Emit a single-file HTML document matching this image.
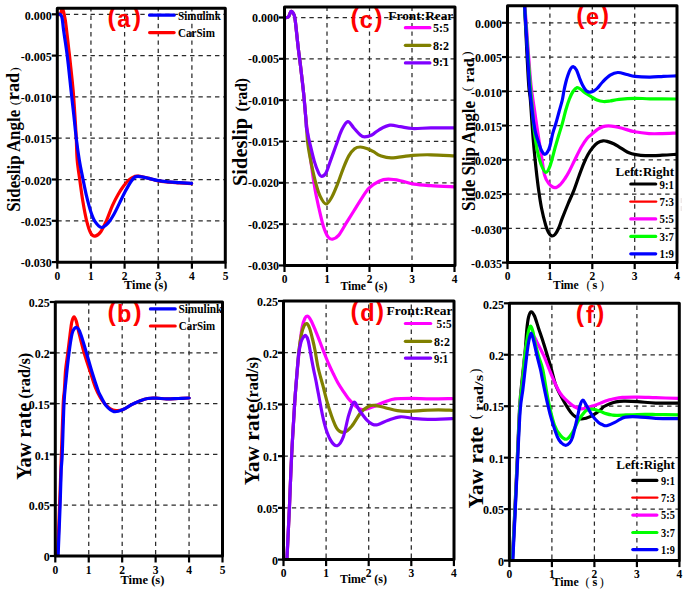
<!DOCTYPE html>
<html><head><meta charset="utf-8"><style>
html,body{margin:0;padding:0;background:#fff;}
svg{display:block;}
</style></head><body>
<svg width="685" height="592" viewBox="0 0 685 592">
<rect width="685" height="592" fill="#fff"/>
<clipPath id="clipa"><rect x="57.3" y="8.2" width="168" height="254"/></clipPath>
<line x1="90.95" y1="262.2" x2="90.95" y2="8.2" stroke="#2a2a2a" stroke-width="1.25" stroke-dasharray="4.4 3.9" stroke-dashoffset="-1.6"/>
<line x1="124.6" y1="262.2" x2="124.6" y2="8.2" stroke="#2a2a2a" stroke-width="1.25" stroke-dasharray="4.4 3.9" stroke-dashoffset="-1.6"/>
<line x1="158.25" y1="262.2" x2="158.25" y2="8.2" stroke="#2a2a2a" stroke-width="1.25" stroke-dasharray="4.4 3.9" stroke-dashoffset="-1.6"/>
<line x1="191.9" y1="262.2" x2="191.9" y2="8.2" stroke="#2a2a2a" stroke-width="1.25" stroke-dasharray="4.4 3.9" stroke-dashoffset="-1.6"/>
<line x1="57.3" y1="14.3" x2="225.3" y2="14.3" stroke="#2a2a2a" stroke-width="1.25" stroke-dasharray="4.4 3.9"/>
<line x1="57.3" y1="55.6" x2="225.3" y2="55.6" stroke="#2a2a2a" stroke-width="1.25" stroke-dasharray="4.4 3.9"/>
<line x1="57.3" y1="96.9" x2="225.3" y2="96.9" stroke="#2a2a2a" stroke-width="1.25" stroke-dasharray="4.4 3.9"/>
<line x1="57.3" y1="138.2" x2="225.3" y2="138.2" stroke="#2a2a2a" stroke-width="1.25" stroke-dasharray="4.4 3.9"/>
<line x1="57.3" y1="179.5" x2="225.3" y2="179.5" stroke="#2a2a2a" stroke-width="1.25" stroke-dasharray="4.4 3.9"/>
<line x1="57.3" y1="220.8" x2="225.3" y2="220.8" stroke="#2a2a2a" stroke-width="1.25" stroke-dasharray="4.4 3.9"/>
<text x="107.55" y="26.12" font-size="25" text-anchor="start" font-family='"Liberation Sans", sans-serif' font-weight="bold" fill="#f00">(</text>
<text x="132.73" y="26.12" font-size="25" text-anchor="start" font-family='"Liberation Sans", sans-serif' font-weight="bold" fill="#f00">)</text>
<text x="117.35" y="27.3" font-size="23.5" text-anchor="start" font-family='"Liberation Sans", sans-serif' font-weight="bold" fill="#f00">a</text>
<line x1="149.6" y1="15.2" x2="174.1" y2="15.2" stroke="#0000ff" stroke-width="3.2" stroke-linecap="round"/>
<line x1="149.6" y1="32.6" x2="174.1" y2="32.6" stroke="#ff0000" stroke-width="3.2" stroke-linecap="round"/>
<text x="178.1" y="19.5" font-size="11.5" text-anchor="start" font-family='"Liberation Serif", serif' font-weight="bold" fill="#000" textLength="42.7" lengthAdjust="spacingAndGlyphs">Simulink</text>
<text x="178.1" y="36.5" font-size="11.5" text-anchor="start" font-family='"Liberation Serif", serif' font-weight="bold" fill="#000" textLength="36.8" lengthAdjust="spacingAndGlyphs">CarSim</text>
<g clip-path="url(#clipa)" fill="none" stroke-linecap="round" stroke-linejoin="round">
<path d="M57.5,14.5 C57.88,14.52 59.2,15.05 59.8,14.6 C60.4,14.15 60.68,12.83 61.1,11.8 C61.52,10.77 61.9,8.45 62.3,8.4 C62.7,8.35 63.12,10.15 63.5,11.5 C63.88,12.85 64.25,14.72 64.6,16.5 C64.95,18.28 65.17,19.05 65.6,22.2 C66.03,25.35 66.68,31 67.2,35.4 C67.72,39.8 68.2,44.2 68.7,48.6 C69.2,53 69.47,54.9 70.2,61.8 C70.93,68.7 72.27,80.3 73.1,90 C73.93,99.7 74.67,111.9 75.2,120 C75.73,128.1 75.97,131.93 76.3,138.6 C76.63,145.27 76.58,152.85 77.2,160 C77.82,167.15 79.05,174.57 80,181.5 C80.95,188.43 81.82,195.13 82.9,201.6 C83.98,208.07 85.18,215.03 86.5,220.3 C87.82,225.57 89.37,230.57 90.8,233.2 C92.23,235.83 93.43,236.33 95.1,236.1 C96.77,235.87 98.88,234.43 100.8,231.8 C102.72,229.17 104.68,224.62 106.6,220.3 C108.52,215.98 110.38,210.2 112.3,205.9 C114.22,201.6 116.18,197.85 118.1,194.5 C120.02,191.15 121.9,188.32 123.8,185.8 C125.7,183.28 127.7,180.95 129.5,179.4 C131.3,177.85 133.12,177.03 134.6,176.5 C136.08,175.97 136,175.88 138.4,176.2 C140.8,176.52 145.88,177.67 149,178.4 C152.12,179.13 154.22,180.02 157.1,180.6 C159.98,181.18 162.58,181.53 166.3,181.9 C170.02,182.27 175.18,182.52 179.4,182.8 C183.62,183.08 189.57,183.47 191.6,183.6" stroke="#ff0000" stroke-width="3.2"/>
<path d="M57.5,14.2 C58.02,14.27 59.83,13.93 60.6,14.6 C61.37,15.27 61.6,15.58 62.1,18.2 C62.6,20.82 63.1,26.58 63.6,30.3 C64.1,34.02 64.58,36.95 65.1,40.5 C65.62,44.05 66.18,47.72 66.7,51.6 C67.22,55.48 67.48,57.4 68.2,63.8 C68.92,70.2 70.07,81.47 71,90 C71.93,98.53 72.92,106.9 73.8,115 C74.68,123.1 75.38,131.1 76.3,138.6 C77.22,146.1 78.2,153.32 79.3,160 C80.4,166.68 81.7,172.72 82.9,178.7 C84.1,184.68 85.18,190.4 86.5,195.9 C87.82,201.4 89.37,207.4 90.8,211.7 C92.23,216 93.3,219.07 95.1,221.7 C96.9,224.33 99.45,227.25 101.6,227.5 C103.75,227.75 105.97,225.37 108,223.2 C110.03,221.03 111.88,217.85 113.8,214.5 C115.72,211.15 117.6,206.92 119.5,203.1 C121.4,199.28 123.28,195.2 125.2,191.6 C127.12,188 129.43,183.87 131,181.5 C132.57,179.13 133.37,178.25 134.6,177.4 C135.83,176.55 136,176.23 138.4,176.4 C140.8,176.57 145.88,177.73 149,178.4 C152.12,179.07 154.22,179.85 157.1,180.4 C159.98,180.95 162.58,181.33 166.3,181.7 C170.02,182.07 175.18,182.32 179.4,182.6 C183.62,182.88 189.57,183.27 191.6,183.4" stroke="#0000ff" stroke-width="3.2"/>
</g>
<rect x="57.3" y="8.2" width="168" height="254" fill="none" stroke="#000" stroke-width="3" stroke-linejoin="round"/>
<line x1="57.3" y1="262.2" x2="57.3" y2="268.7" stroke="#000" stroke-width="2.2"/>
<text x="57.3" y="280" font-size="11.5" text-anchor="middle" font-family='"Liberation Serif", serif' font-weight="bold" fill="#000">0</text>
<line x1="90.95" y1="262.2" x2="90.95" y2="268.7" stroke="#000" stroke-width="2.2"/>
<text x="90.95" y="280" font-size="11.5" text-anchor="middle" font-family='"Liberation Serif", serif' font-weight="bold" fill="#000">1</text>
<line x1="124.6" y1="262.2" x2="124.6" y2="268.7" stroke="#000" stroke-width="2.2"/>
<text x="124.6" y="280" font-size="11.5" text-anchor="middle" font-family='"Liberation Serif", serif' font-weight="bold" fill="#000">2</text>
<line x1="158.25" y1="262.2" x2="158.25" y2="268.7" stroke="#000" stroke-width="2.2"/>
<text x="158.25" y="280" font-size="11.5" text-anchor="middle" font-family='"Liberation Serif", serif' font-weight="bold" fill="#000">3</text>
<line x1="191.9" y1="262.2" x2="191.9" y2="268.7" stroke="#000" stroke-width="2.2"/>
<text x="191.9" y="280" font-size="11.5" text-anchor="middle" font-family='"Liberation Serif", serif' font-weight="bold" fill="#000">4</text>
<line x1="225.55" y1="262.2" x2="225.55" y2="268.7" stroke="#000" stroke-width="2.2"/>
<text x="225.55" y="280" font-size="11.5" text-anchor="middle" font-family='"Liberation Serif", serif' font-weight="bold" fill="#000">5</text>
<line x1="51.8" y1="14.3" x2="57.3" y2="14.3" stroke="#000" stroke-width="2.2"/>
<text x="51.8" y="19.5" font-size="12" text-anchor="end" font-family='"Liberation Serif", serif' font-weight="bold" fill="#000">0.000</text>
<line x1="51.8" y1="55.6" x2="57.3" y2="55.6" stroke="#000" stroke-width="2.2"/>
<text x="51.8" y="60.8" font-size="12" text-anchor="end" font-family='"Liberation Serif", serif' font-weight="bold" fill="#000">-0.005</text>
<line x1="51.8" y1="96.9" x2="57.3" y2="96.9" stroke="#000" stroke-width="2.2"/>
<text x="51.8" y="102.1" font-size="12" text-anchor="end" font-family='"Liberation Serif", serif' font-weight="bold" fill="#000">-0.010</text>
<line x1="51.8" y1="138.2" x2="57.3" y2="138.2" stroke="#000" stroke-width="2.2"/>
<text x="51.8" y="143.4" font-size="12" text-anchor="end" font-family='"Liberation Serif", serif' font-weight="bold" fill="#000">-0.015</text>
<line x1="51.8" y1="179.5" x2="57.3" y2="179.5" stroke="#000" stroke-width="2.2"/>
<text x="51.8" y="184.7" font-size="12" text-anchor="end" font-family='"Liberation Serif", serif' font-weight="bold" fill="#000">-0.020</text>
<line x1="51.8" y1="220.8" x2="57.3" y2="220.8" stroke="#000" stroke-width="2.2"/>
<text x="51.8" y="226" font-size="12" text-anchor="end" font-family='"Liberation Serif", serif' font-weight="bold" fill="#000">-0.025</text>
<line x1="51.8" y1="262.1" x2="57.3" y2="262.1" stroke="#000" stroke-width="2.2"/>
<text x="51.8" y="267.3" font-size="12" text-anchor="end" font-family='"Liberation Serif", serif' font-weight="bold" fill="#000">-0.030</text>
<text x="124.1" y="288.7" font-size="12.5" text-anchor="start" font-family='"Liberation Serif", serif' font-weight="bold" fill="#000" textLength="43.3" lengthAdjust="spacingAndGlyphs">Time (s)</text>
<text transform="translate(19.6,211.8) rotate(-90)" x="0" y="0" font-size="18.8" text-anchor="start" font-family='"Liberation Serif", serif' font-weight="bold" fill="#000" textLength="102" lengthAdjust="spacingAndGlyphs">Sideslip Angle</text>
<text transform="translate(19,102.9) rotate(-90)" x="0" y="0" font-size="13.5" text-anchor="middle" font-family='"Liberation Serif", serif' font-weight="normal" fill="#000">(</text>
<text transform="translate(19.1,100.2) rotate(-90)" x="0" y="0" font-size="17.8" text-anchor="start" font-family='"Liberation Serif", serif' font-weight="bold" fill="#000" textLength="27.4" lengthAdjust="spacingAndGlyphs">rad</text>
<text transform="translate(19,69.6) rotate(-90)" x="0" y="0" font-size="13.5" text-anchor="middle" font-family='"Liberation Serif", serif' font-weight="normal" fill="#000">)</text>
<clipPath id="clipb"><rect x="55.3" y="302" width="167.2" height="254"/></clipPath>
<line x1="88.74" y1="556" x2="88.74" y2="302" stroke="#2a2a2a" stroke-width="1.25" stroke-dasharray="4.4 3.9" stroke-dashoffset="-1.6"/>
<line x1="122.18" y1="556" x2="122.18" y2="302" stroke="#2a2a2a" stroke-width="1.25" stroke-dasharray="4.4 3.9" stroke-dashoffset="-1.6"/>
<line x1="155.62" y1="556" x2="155.62" y2="302" stroke="#2a2a2a" stroke-width="1.25" stroke-dasharray="4.4 3.9" stroke-dashoffset="-1.6"/>
<line x1="189.06" y1="556" x2="189.06" y2="302" stroke="#2a2a2a" stroke-width="1.25" stroke-dasharray="4.4 3.9" stroke-dashoffset="-1.6"/>
<line x1="55.3" y1="505.2" x2="222.5" y2="505.2" stroke="#2a2a2a" stroke-width="1.25" stroke-dasharray="4.4 3.9"/>
<line x1="55.3" y1="454.4" x2="222.5" y2="454.4" stroke="#2a2a2a" stroke-width="1.25" stroke-dasharray="4.4 3.9"/>
<line x1="55.3" y1="403.6" x2="222.5" y2="403.6" stroke="#2a2a2a" stroke-width="1.25" stroke-dasharray="4.4 3.9"/>
<line x1="55.3" y1="352.8" x2="222.5" y2="352.8" stroke="#2a2a2a" stroke-width="1.25" stroke-dasharray="4.4 3.9"/>
<text x="107.55" y="321.12" font-size="25" text-anchor="start" font-family='"Liberation Sans", sans-serif' font-weight="bold" fill="#f00">(</text>
<text x="133.23" y="321.12" font-size="25" text-anchor="start" font-family='"Liberation Sans", sans-serif' font-weight="bold" fill="#f00">)</text>
<text x="117.08" y="322.3" font-size="23.5" text-anchor="start" font-family='"Liberation Sans", sans-serif' font-weight="bold" fill="#f00">b</text>
<line x1="150.4" y1="308.9" x2="175.2" y2="308.9" stroke="#0000ff" stroke-width="3.2" stroke-linecap="round"/>
<line x1="150.4" y1="326" x2="175.2" y2="326" stroke="#ff0000" stroke-width="3.2" stroke-linecap="round"/>
<text x="178.4" y="313.1" font-size="11.5" text-anchor="start" font-family='"Liberation Serif", serif' font-weight="bold" fill="#000" textLength="44" lengthAdjust="spacingAndGlyphs">Simulink</text>
<text x="178.8" y="330" font-size="11.5" text-anchor="start" font-family='"Liberation Serif", serif' font-weight="bold" fill="#000" textLength="36.4" lengthAdjust="spacingAndGlyphs">CarSim</text>
<g clip-path="url(#clipb)" fill="none" stroke-linecap="round" stroke-linejoin="round">
<path d="M57.6,556 C57.93,547.5 59,521 59.6,505 C60.2,489 60.6,476.83 61.2,460 C61.8,443.17 62.67,415.67 63.2,404 C63.73,392.33 64,395.67 64.4,390 C64.8,384.33 65.03,376.17 65.6,370 C66.17,363.83 67.07,358.83 67.8,353 C68.53,347.17 69.33,340.17 70,335 C70.67,329.83 71.13,325.03 71.8,322 C72.47,318.97 73.23,316.88 74,316.8 C74.77,316.72 75.57,318.8 76.4,321.5 C77.23,324.2 77.7,327.75 79,333 C80.3,338.25 82.37,346.67 84.2,353 C86.03,359.33 88.1,365.17 90,371 C91.9,376.83 93.93,383.67 95.6,388 C97.27,392.33 98.52,394.42 100,397 C101.48,399.58 102.83,401.58 104.5,403.5 C106.17,405.42 108.08,407.33 110,408.5 C111.92,409.67 113.83,410.32 116,410.5 C118.17,410.68 120.32,410.63 123,409.6 C125.68,408.57 129.47,405.67 132.1,404.3 C134.73,402.93 136.23,402.37 138.8,401.4 C141.37,400.43 144.58,399.03 147.5,398.5 C150.42,397.97 153.13,398.13 156.3,398.2 C159.47,398.27 162.85,398.85 166.5,398.9 C170.15,398.95 174.42,398.65 178.2,398.5 C181.98,398.35 187.37,398.08 189.2,398" stroke="#ff0000" stroke-width="3.2"/>
<path d="M58.1,556 C58.43,547.6 59.58,519.93 60.1,505.6 C60.62,491.27 60.85,478.43 61.2,470 C61.55,461.57 61.73,466 62.2,455 C62.67,444 63.37,416.5 64,404 C64.63,391.5 65.17,388.5 66,380 C66.83,371.5 68,360.67 69,353 C70,345.33 71.08,338.08 72,334 C72.92,329.92 73.73,329.6 74.5,328.5 C75.27,327.4 75.85,327.15 76.6,327.4 C77.35,327.65 78.1,328.23 79,330 C79.9,331.77 80.75,334.17 82,338 C83.25,341.83 84.83,347.33 86.5,353 C88.17,358.67 90.1,365.83 92,372 C93.9,378.17 96.53,386.13 97.9,390 C99.27,393.87 98.82,392.57 100.2,395.2 C101.58,397.83 103.92,403.07 106.2,405.8 C108.48,408.53 111.1,410.97 113.9,411.6 C116.7,412.23 119.97,410.82 123,409.6 C126.03,408.38 129.47,405.67 132.1,404.3 C134.73,402.93 136.23,402.37 138.8,401.4 C141.37,400.43 144.58,399.03 147.5,398.5 C150.42,397.97 153.13,398.13 156.3,398.2 C159.47,398.27 162.85,398.85 166.5,398.9 C170.15,398.95 174.42,398.65 178.2,398.5 C181.98,398.35 187.37,398.08 189.2,398" stroke="#0000ff" stroke-width="3.2"/>
</g>
<rect x="55.3" y="302" width="167.2" height="254" fill="none" stroke="#000" stroke-width="3" stroke-linejoin="round"/>
<line x1="55.3" y1="556" x2="55.3" y2="562.5" stroke="#000" stroke-width="2.2"/>
<text x="55.3" y="573.5" font-size="11.5" text-anchor="middle" font-family='"Liberation Serif", serif' font-weight="bold" fill="#000">0</text>
<line x1="88.74" y1="556" x2="88.74" y2="562.5" stroke="#000" stroke-width="2.2"/>
<text x="88.74" y="573.5" font-size="11.5" text-anchor="middle" font-family='"Liberation Serif", serif' font-weight="bold" fill="#000">1</text>
<line x1="122.18" y1="556" x2="122.18" y2="562.5" stroke="#000" stroke-width="2.2"/>
<text x="122.18" y="573.5" font-size="11.5" text-anchor="middle" font-family='"Liberation Serif", serif' font-weight="bold" fill="#000">2</text>
<line x1="155.62" y1="556" x2="155.62" y2="562.5" stroke="#000" stroke-width="2.2"/>
<text x="155.62" y="573.5" font-size="11.5" text-anchor="middle" font-family='"Liberation Serif", serif' font-weight="bold" fill="#000">3</text>
<line x1="189.06" y1="556" x2="189.06" y2="562.5" stroke="#000" stroke-width="2.2"/>
<text x="189.06" y="573.5" font-size="11.5" text-anchor="middle" font-family='"Liberation Serif", serif' font-weight="bold" fill="#000">4</text>
<line x1="222.5" y1="556" x2="222.5" y2="562.5" stroke="#000" stroke-width="2.2"/>
<text x="222.5" y="573.5" font-size="11.5" text-anchor="middle" font-family='"Liberation Serif", serif' font-weight="bold" fill="#000">5</text>
<line x1="49.8" y1="556" x2="55.3" y2="556" stroke="#000" stroke-width="2.2"/>
<text x="49.8" y="561.2" font-size="12" text-anchor="end" font-family='"Liberation Serif", serif' font-weight="bold" fill="#000">0</text>
<line x1="49.8" y1="505.2" x2="55.3" y2="505.2" stroke="#000" stroke-width="2.2"/>
<text x="49.8" y="510.4" font-size="12" text-anchor="end" font-family='"Liberation Serif", serif' font-weight="bold" fill="#000">0.05</text>
<line x1="49.8" y1="454.4" x2="55.3" y2="454.4" stroke="#000" stroke-width="2.2"/>
<text x="49.8" y="459.6" font-size="12" text-anchor="end" font-family='"Liberation Serif", serif' font-weight="bold" fill="#000">0.1</text>
<line x1="49.8" y1="403.6" x2="55.3" y2="403.6" stroke="#000" stroke-width="2.2"/>
<text x="49.8" y="408.8" font-size="12" text-anchor="end" font-family='"Liberation Serif", serif' font-weight="bold" fill="#000">0.15</text>
<line x1="49.8" y1="352.8" x2="55.3" y2="352.8" stroke="#000" stroke-width="2.2"/>
<text x="49.8" y="358" font-size="12" text-anchor="end" font-family='"Liberation Serif", serif' font-weight="bold" fill="#000">0.2</text>
<line x1="49.8" y1="302" x2="55.3" y2="302" stroke="#000" stroke-width="2.2"/>
<text x="49.8" y="307.2" font-size="12" text-anchor="end" font-family='"Liberation Serif", serif' font-weight="bold" fill="#000">0.25</text>
<text x="120.4" y="583.7" font-size="12.5" text-anchor="start" font-family='"Liberation Serif", serif' font-weight="bold" fill="#000" textLength="44" lengthAdjust="spacingAndGlyphs">Time (s)</text>
<text transform="translate(30.6,479.8) rotate(-90)" x="0" y="0" font-size="20" text-anchor="start" font-family='"Liberation Serif", serif' font-weight="bold" fill="#000" textLength="77" lengthAdjust="spacingAndGlyphs">Yaw rate</text>
<text transform="translate(30.3,398.8) rotate(-90)" x="0" y="0" font-size="16" text-anchor="start" font-family='"Liberation Serif", serif' font-weight="bold" fill="#000" textLength="46" lengthAdjust="spacingAndGlyphs">(rad/s)</text>
<clipPath id="clipc"><rect x="284.5" y="7" width="170.5" height="258.5"/></clipPath>
<line x1="327" y1="265.5" x2="327" y2="7" stroke="#2a2a2a" stroke-width="1.25" stroke-dasharray="4.4 3.9" stroke-dashoffset="-5.6"/>
<line x1="369.5" y1="265.5" x2="369.5" y2="7" stroke="#2a2a2a" stroke-width="1.25" stroke-dasharray="4.4 3.9" stroke-dashoffset="-5.6"/>
<line x1="412" y1="265.5" x2="412" y2="7" stroke="#2a2a2a" stroke-width="1.25" stroke-dasharray="4.4 3.9" stroke-dashoffset="-5.6"/>
<line x1="284.5" y1="17.5" x2="455" y2="17.5" stroke="#2a2a2a" stroke-width="1.25" stroke-dasharray="4.4 3.9"/>
<line x1="284.5" y1="58.83" x2="455" y2="58.83" stroke="#2a2a2a" stroke-width="1.25" stroke-dasharray="4.4 3.9"/>
<line x1="284.5" y1="100.16" x2="455" y2="100.16" stroke="#2a2a2a" stroke-width="1.25" stroke-dasharray="4.4 3.9"/>
<line x1="284.5" y1="141.49" x2="455" y2="141.49" stroke="#2a2a2a" stroke-width="1.25" stroke-dasharray="4.4 3.9"/>
<line x1="284.5" y1="182.82" x2="455" y2="182.82" stroke="#2a2a2a" stroke-width="1.25" stroke-dasharray="4.4 3.9"/>
<line x1="284.5" y1="224.15" x2="455" y2="224.15" stroke="#2a2a2a" stroke-width="1.25" stroke-dasharray="4.4 3.9"/>
<text x="350.45" y="26.52" font-size="25" text-anchor="start" font-family='"Liberation Sans", sans-serif' font-weight="bold" fill="#f00">(</text>
<text x="374.23" y="26.52" font-size="25" text-anchor="start" font-family='"Liberation Sans", sans-serif' font-weight="bold" fill="#f00">)</text>
<text x="359.85" y="27.7" font-size="23.5" text-anchor="start" font-family='"Liberation Sans", sans-serif' font-weight="bold" fill="#f00">c</text>
<line x1="405.4" y1="27.7" x2="429.9" y2="27.7" stroke="#ff00ff" stroke-width="3.2" stroke-linecap="round"/>
<line x1="405.4" y1="45.3" x2="429.9" y2="45.3" stroke="#808000" stroke-width="3.2" stroke-linecap="round"/>
<line x1="405.4" y1="62.9" x2="429.9" y2="62.9" stroke="#8000ff" stroke-width="3.2" stroke-linecap="round"/>
<text x="388.3" y="20.1" font-size="12.5" text-anchor="start" font-family='"Liberation Serif", serif' font-weight="bold" fill="#000" textLength="65" lengthAdjust="spacingAndGlyphs">Front:Rear</text>
<text x="433.1" y="31.9" font-size="11.5" text-anchor="start" font-family='"Liberation Serif", serif' font-weight="bold" fill="#000" textLength="16" lengthAdjust="spacingAndGlyphs">5:5</text>
<text x="433.1" y="49.5" font-size="11.5" text-anchor="start" font-family='"Liberation Serif", serif' font-weight="bold" fill="#000" textLength="16" lengthAdjust="spacingAndGlyphs">8:2</text>
<text x="433.1" y="66.3" font-size="11.5" text-anchor="start" font-family='"Liberation Serif", serif' font-weight="bold" fill="#000" textLength="16" lengthAdjust="spacingAndGlyphs">9:1</text>
<g clip-path="url(#clipc)" fill="none" stroke-linecap="round" stroke-linejoin="round">
<path d="M284.6,17.5 C285.23,17.4 287.33,17.92 288.4,16.9 C289.47,15.88 290.12,11.87 291,11.4 C291.88,10.93 293,12.63 293.7,14.1 C294.4,15.57 294.45,14.62 295.2,20.2 C295.95,25.78 297.32,40 298.2,47.6 C299.08,55.2 299.6,58.2 300.5,65.8 C301.4,73.4 302.68,84.1 303.6,93.2 C304.52,102.3 305.38,114.27 306,120.4 C306.62,126.53 306.38,122.42 307.3,130 C308.22,137.58 310.2,155.93 311.5,165.9 C312.8,175.87 313.87,182.78 315.1,189.8 C316.33,196.82 317.52,201.93 318.9,208 C320.28,214.07 321.88,221.38 323.4,226.2 C324.92,231.02 326.47,234.73 328,236.9 C329.53,239.07 330.83,239.45 332.6,239.2 C334.37,238.95 336.33,238.07 338.6,235.4 C340.87,232.73 343.67,227.27 346.2,223.2 C348.73,219.13 351.27,215.05 353.8,211 C356.33,206.95 358.87,202.7 361.4,198.9 C363.93,195.1 366.05,191.15 369,188.2 C371.95,185.25 375.9,182.7 379.1,181.2 C382.3,179.7 384.65,179.28 388.2,179.2 C391.75,179.12 396.08,179.87 400.4,180.7 C404.72,181.53 409.03,183.37 414.1,184.2 C419.17,185.03 424.08,185.27 430.8,185.7 C437.52,186.13 450.47,186.62 454.4,186.8" stroke="#ff00ff" stroke-width="3.2"/>
<path d="M284.6,17.5 C285.23,17.4 287.33,17.92 288.4,16.9 C289.47,15.88 290.12,11.87 291,11.4 C291.88,10.93 293,12.63 293.7,14.1 C294.4,15.57 294.45,14.62 295.2,20.2 C295.95,25.78 297.32,40 298.2,47.6 C299.08,55.2 299.6,58.2 300.5,65.8 C301.4,73.4 302.68,84.1 303.6,93.2 C304.52,102.3 305.28,111.87 306,120.4 C306.72,128.93 306.98,137.05 307.9,144.4 C308.82,151.75 310.18,158.05 311.5,164.5 C312.82,170.95 314.37,177.83 315.8,183.1 C317.23,188.37 318.42,192.62 320.1,196.1 C321.78,199.58 323.98,203.77 325.9,204 C327.82,204.23 329.7,200.73 331.6,197.5 C333.5,194.27 335.38,189.38 337.3,184.6 C339.22,179.82 341.18,173.58 343.1,168.8 C345.02,164.02 346.88,159.25 348.8,155.9 C350.72,152.55 352.68,150.18 354.6,148.7 C356.52,147.22 358.15,147 360.3,147 C362.45,147 365.1,147.82 367.5,148.7 C369.9,149.58 372.62,151.15 374.7,152.3 C376.78,153.45 377.23,154.67 380,155.6 C382.77,156.53 385.87,157.95 391.3,157.9 C396.73,157.85 406.02,155.82 412.6,155.3 C419.18,154.78 423.83,154.7 430.8,154.8 C437.77,154.9 450.47,155.72 454.4,155.9" stroke="#808000" stroke-width="3.2"/>
<path d="M284.6,17.5 C285.23,17.4 287.33,17.92 288.4,16.9 C289.47,15.88 290.12,11.87 291,11.4 C291.88,10.93 293,12.63 293.7,14.1 C294.4,15.57 294.45,14.62 295.2,20.2 C295.95,25.78 297.32,40 298.2,47.6 C299.08,55.2 299.6,58.2 300.5,65.8 C301.4,73.4 302.68,84.1 303.6,93.2 C304.52,102.3 305.52,114.6 306,120.4 C306.48,126.2 305.82,124 306.5,128 C307.18,132 308.78,138.8 310.1,144.4 C311.42,150 312.97,156.82 314.4,161.6 C315.83,166.38 317.52,170.65 318.7,173.1 C319.88,175.55 320.3,176.3 321.5,176.3 C322.7,176.3 324.45,175.55 325.9,173.1 C327.35,170.65 328.53,166.15 330.2,161.6 C331.87,157.05 333.98,151.07 335.9,145.8 C337.82,140.53 339.72,134.03 341.7,130 C343.68,125.97 345.78,121.93 347.8,121.6 C349.82,121.27 351.72,125.77 353.8,128 C355.88,130.23 358.5,133.52 360.3,135 C362.1,136.48 362.68,136.9 364.6,136.9 C366.52,136.9 369.38,136.18 371.8,135 C374.22,133.82 376.1,131.43 379.1,129.8 C382.1,128.17 386.25,125.72 389.8,125.2 C393.35,124.68 396.6,126.15 400.4,126.7 C404.2,127.25 407.53,128.3 412.6,128.5 C417.67,128.7 423.83,128 430.8,127.9 C437.77,127.8 450.47,127.9 454.4,127.9" stroke="#8000ff" stroke-width="3.2"/>
</g>
<rect x="284.5" y="7" width="170.5" height="258.5" fill="none" stroke="#000" stroke-width="3" stroke-linejoin="round"/>
<line x1="284.5" y1="265.5" x2="284.5" y2="272" stroke="#000" stroke-width="2.2"/>
<text x="284.5" y="283.3" font-size="11.5" text-anchor="middle" font-family='"Liberation Serif", serif' font-weight="bold" fill="#000">0</text>
<line x1="327" y1="265.5" x2="327" y2="272" stroke="#000" stroke-width="2.2"/>
<text x="327" y="283.3" font-size="11.5" text-anchor="middle" font-family='"Liberation Serif", serif' font-weight="bold" fill="#000">1</text>
<line x1="369.5" y1="265.5" x2="369.5" y2="272" stroke="#000" stroke-width="2.2"/>
<text x="369.5" y="283.3" font-size="11.5" text-anchor="middle" font-family='"Liberation Serif", serif' font-weight="bold" fill="#000">2</text>
<line x1="412" y1="265.5" x2="412" y2="272" stroke="#000" stroke-width="2.2"/>
<text x="412" y="283.3" font-size="11.5" text-anchor="middle" font-family='"Liberation Serif", serif' font-weight="bold" fill="#000">3</text>
<line x1="454.5" y1="265.5" x2="454.5" y2="272" stroke="#000" stroke-width="2.2"/>
<text x="454.5" y="283.3" font-size="11.5" text-anchor="middle" font-family='"Liberation Serif", serif' font-weight="bold" fill="#000">4</text>
<line x1="279" y1="17.5" x2="284.5" y2="17.5" stroke="#000" stroke-width="2.2"/>
<text x="279" y="21.9" font-size="12" text-anchor="end" font-family='"Liberation Serif", serif' font-weight="bold" fill="#000">0.000</text>
<line x1="279" y1="58.83" x2="284.5" y2="58.83" stroke="#000" stroke-width="2.2"/>
<text x="279" y="63.23" font-size="12" text-anchor="end" font-family='"Liberation Serif", serif' font-weight="bold" fill="#000">-0.005</text>
<line x1="279" y1="100.16" x2="284.5" y2="100.16" stroke="#000" stroke-width="2.2"/>
<text x="279" y="104.56" font-size="12" text-anchor="end" font-family='"Liberation Serif", serif' font-weight="bold" fill="#000">-0.010</text>
<line x1="279" y1="141.49" x2="284.5" y2="141.49" stroke="#000" stroke-width="2.2"/>
<text x="279" y="145.89" font-size="12" text-anchor="end" font-family='"Liberation Serif", serif' font-weight="bold" fill="#000">-0.015</text>
<line x1="279" y1="182.82" x2="284.5" y2="182.82" stroke="#000" stroke-width="2.2"/>
<text x="279" y="187.22" font-size="12" text-anchor="end" font-family='"Liberation Serif", serif' font-weight="bold" fill="#000">-0.020</text>
<line x1="279" y1="224.15" x2="284.5" y2="224.15" stroke="#000" stroke-width="2.2"/>
<text x="279" y="228.55" font-size="12" text-anchor="end" font-family='"Liberation Serif", serif' font-weight="bold" fill="#000">-0.025</text>
<line x1="279" y1="265.48" x2="284.5" y2="265.48" stroke="#000" stroke-width="2.2"/>
<text x="279" y="269.88" font-size="12" text-anchor="end" font-family='"Liberation Serif", serif' font-weight="bold" fill="#000">-0.030</text>
<text x="340.4" y="289.5" font-size="12.5" text-anchor="start" font-family='"Liberation Serif", serif' font-weight="bold" fill="#000" textLength="25.6" lengthAdjust="spacingAndGlyphs">Time</text>
<text x="374.8" y="289.5" font-size="12.5" text-anchor="start" font-family='"Liberation Serif", serif' font-weight="bold" fill="#000" textLength="12.6" lengthAdjust="spacingAndGlyphs">(s)</text>
<text transform="translate(246.5,186) rotate(-90)" x="0" y="0" font-size="20.5" text-anchor="start" font-family='"Liberation Serif", serif' font-weight="bold" fill="#000" textLength="68.2" lengthAdjust="spacingAndGlyphs">Sideslip</text>
<text transform="translate(246.5,111.5) rotate(-90)" x="0" y="0" font-size="16" text-anchor="start" font-family='"Liberation Serif", serif' font-weight="bold" fill="#000" textLength="33.4" lengthAdjust="spacingAndGlyphs">(rad)</text>
<clipPath id="clipd"><rect x="283.5" y="301" width="170.5" height="258.6"/></clipPath>
<line x1="326.1" y1="559.6" x2="326.1" y2="301" stroke="#2a2a2a" stroke-width="1.25" stroke-dasharray="4.4 3.9" stroke-dashoffset="-1.6"/>
<line x1="368.7" y1="559.6" x2="368.7" y2="301" stroke="#2a2a2a" stroke-width="1.25" stroke-dasharray="4.4 3.9" stroke-dashoffset="-1.6"/>
<line x1="411.3" y1="559.6" x2="411.3" y2="301" stroke="#2a2a2a" stroke-width="1.25" stroke-dasharray="4.4 3.9" stroke-dashoffset="-1.6"/>
<line x1="283.5" y1="507.88" x2="454" y2="507.88" stroke="#2a2a2a" stroke-width="1.25" stroke-dasharray="4.4 3.9"/>
<line x1="283.5" y1="456.16" x2="454" y2="456.16" stroke="#2a2a2a" stroke-width="1.25" stroke-dasharray="4.4 3.9"/>
<line x1="283.5" y1="404.44" x2="454" y2="404.44" stroke="#2a2a2a" stroke-width="1.25" stroke-dasharray="4.4 3.9"/>
<line x1="283.5" y1="352.72" x2="454" y2="352.72" stroke="#2a2a2a" stroke-width="1.25" stroke-dasharray="4.4 3.9"/>
<text x="350.45" y="319.81" font-size="25" text-anchor="start" font-family='"Liberation Sans", sans-serif' font-weight="bold" fill="#f00">(</text>
<text x="375.73" y="319.81" font-size="25" text-anchor="start" font-family='"Liberation Sans", sans-serif' font-weight="bold" fill="#f00">)</text>
<text x="360.37" y="321" font-size="23.5" text-anchor="start" font-family='"Liberation Sans", sans-serif' font-weight="bold" fill="#f00">d</text>
<line x1="405.4" y1="323.5" x2="430.7" y2="323.5" stroke="#ff00ff" stroke-width="3.2" stroke-linecap="round"/>
<line x1="405.4" y1="341.3" x2="430.7" y2="341.3" stroke="#808000" stroke-width="3.2" stroke-linecap="round"/>
<line x1="405.4" y1="358.1" x2="430.7" y2="358.1" stroke="#8000ff" stroke-width="3.2" stroke-linecap="round"/>
<text x="386.6" y="314.8" font-size="12.5" text-anchor="start" font-family='"Liberation Serif", serif' font-weight="bold" fill="#000" textLength="65.8" lengthAdjust="spacingAndGlyphs">Front:Rear</text>
<text x="436.5" y="327.9" font-size="11.5" text-anchor="start" font-family='"Liberation Serif", serif' font-weight="bold" fill="#000" textLength="15.1" lengthAdjust="spacingAndGlyphs">5:5</text>
<text x="434" y="345.8" font-size="11.5" text-anchor="start" font-family='"Liberation Serif", serif' font-weight="bold" fill="#000" textLength="15.9" lengthAdjust="spacingAndGlyphs">8:2</text>
<text x="434" y="362.6" font-size="11.5" text-anchor="start" font-family='"Liberation Serif", serif' font-weight="bold" fill="#000" textLength="14.2" lengthAdjust="spacingAndGlyphs">9:1</text>
<g clip-path="url(#clipd)" fill="none" stroke-linecap="round" stroke-linejoin="round">
<path d="M286.9,559.6 C287.32,550.95 288.62,524.97 289.4,507.7 C290.18,490.43 290.73,473.23 291.6,456 C292.47,438.77 293.77,417.3 294.6,404.3 C295.43,391.3 295.78,387.38 296.6,378 C297.42,368.62 298.6,356.33 299.5,348 C300.4,339.67 301.12,332.92 302,328 C302.88,323.08 303.83,320.45 304.8,318.5 C305.77,316.55 306.77,315.97 307.8,316.3 C308.83,316.63 309.73,318.15 311,320.5 C312.27,322.85 313.93,326.9 315.4,330.4 C316.87,333.9 318.32,337.7 319.8,341.5 C321.28,345.3 322.82,349.45 324.3,353.2 C325.78,356.95 327.22,360.62 328.7,364 C330.18,367.38 331.65,370.33 333.2,373.5 C334.75,376.67 336.32,380.03 338,383 C339.68,385.97 341.58,388.72 343.3,391.3 C345.02,393.88 346.62,396.4 348.3,398.5 C349.98,400.6 351.95,402.43 353.4,403.9 C354.85,405.37 355.73,406.4 357,407.3 C358.27,408.2 359.5,408.97 361,409.3 C362.5,409.63 363.88,409.77 366,409.3 C368.12,408.83 371.37,407.42 373.7,406.5 C376.03,405.58 377.88,404.68 380,403.8 C382.12,402.92 383.9,402.02 386.4,401.2 C388.9,400.38 390.9,399.37 395,398.9 C399.1,398.43 405.03,398.4 411,398.4 C416.97,398.4 423.95,398.87 430.8,398.9 C437.65,398.93 448.55,398.65 452.1,398.6" stroke="#ff00ff" stroke-width="3.2"/>
<path d="M286.9,559.6 C287.32,550.95 288.62,524.97 289.4,507.7 C290.18,490.43 290.73,473.23 291.6,456 C292.47,438.77 293.77,417.3 294.6,404.3 C295.43,391.3 295.87,387.05 296.6,378 C297.33,368.95 298.18,357.33 299,350 C299.82,342.67 300.67,338 301.5,334 C302.33,330 303.15,327.73 304,326 C304.85,324.27 305.68,323.27 306.6,323.6 C307.52,323.93 308.52,325.43 309.5,328 C310.48,330.57 311.58,335.3 312.5,339 C313.42,342.7 314.05,345.37 315,350.2 C315.95,355.03 316.9,362.17 318.2,368 C319.5,373.83 321.02,378.53 322.8,385.2 C324.58,391.87 326.62,400.9 328.9,408 C331.18,415.1 333.97,423.75 336.5,427.8 C339.03,431.85 341.57,432.57 344.1,432.3 C346.63,432.03 348.92,429.48 351.7,426.2 C354.48,422.92 358.02,415.88 360.8,412.6 C363.58,409.32 366.12,407.72 368.4,406.5 C370.68,405.28 371.7,405.1 374.5,405.3 C377.3,405.5 381.38,406.8 385.2,407.7 C389.02,408.6 393.35,410.1 397.4,410.7 C401.45,411.3 405.2,411.37 409.5,411.3 C413.8,411.23 418.38,410.55 423.2,410.3 C428.02,410.05 433.58,409.8 438.4,409.8 C443.22,409.8 449.82,410.22 452.1,410.3" stroke="#808000" stroke-width="3.2"/>
<path d="M286.9,559.6 C287.32,550.95 288.62,524.97 289.4,507.7 C290.18,490.43 290.73,473.23 291.6,456 C292.47,438.77 293.77,417.3 294.6,404.3 C295.43,391.3 295.92,386.38 296.6,378 C297.28,369.62 297.97,360 298.7,354 C299.43,348 300.2,344.83 301,342 C301.8,339.17 302.7,338.05 303.5,337 C304.3,335.95 305,335.03 305.8,335.7 C306.6,336.37 307.28,336.82 308.3,341 C309.32,345.18 311,355.97 311.9,360.8 C312.8,365.63 313.02,366.63 313.7,370 C314.38,373.37 315.25,377.2 316,381 C316.75,384.8 316.82,385.77 318.2,392.8 C319.58,399.83 322.27,415.35 324.3,423.2 C326.33,431.05 328.25,436.15 330.4,439.9 C332.55,443.65 335.05,446.2 337.2,445.7 C339.35,445.2 341.4,441.92 343.3,436.9 C345.2,431.88 346.82,421.38 348.6,415.6 C350.38,409.82 352.22,403.08 354,402.2 C355.78,401.32 357.15,407.3 359.3,410.3 C361.45,413.3 364.78,417.92 366.9,420.2 C369.02,422.48 370.23,423.25 372,424 C373.77,424.75 374.8,425.33 377.5,424.7 C380.2,424.07 384.38,421.52 388.2,420.2 C392.02,418.88 396.33,417.12 400.4,416.8 C404.47,416.48 408.03,417.87 412.6,418.3 C417.17,418.73 421.22,419.35 427.8,419.4 C434.38,419.45 448.05,418.73 452.1,418.6" stroke="#8000ff" stroke-width="3.2"/>
</g>
<rect x="283.5" y="301" width="170.5" height="258.6" fill="none" stroke="#000" stroke-width="3" stroke-linejoin="round"/>
<line x1="283.5" y1="559.6" x2="283.5" y2="566.1" stroke="#000" stroke-width="2.2"/>
<text x="283.5" y="576.6" font-size="11.5" text-anchor="middle" font-family='"Liberation Serif", serif' font-weight="bold" fill="#000">0</text>
<line x1="326.1" y1="559.6" x2="326.1" y2="566.1" stroke="#000" stroke-width="2.2"/>
<text x="326.1" y="576.6" font-size="11.5" text-anchor="middle" font-family='"Liberation Serif", serif' font-weight="bold" fill="#000">1</text>
<line x1="368.7" y1="559.6" x2="368.7" y2="566.1" stroke="#000" stroke-width="2.2"/>
<text x="368.7" y="576.6" font-size="11.5" text-anchor="middle" font-family='"Liberation Serif", serif' font-weight="bold" fill="#000">2</text>
<line x1="411.3" y1="559.6" x2="411.3" y2="566.1" stroke="#000" stroke-width="2.2"/>
<text x="411.3" y="576.6" font-size="11.5" text-anchor="middle" font-family='"Liberation Serif", serif' font-weight="bold" fill="#000">3</text>
<line x1="453.9" y1="559.6" x2="453.9" y2="566.1" stroke="#000" stroke-width="2.2"/>
<text x="453.9" y="576.6" font-size="11.5" text-anchor="middle" font-family='"Liberation Serif", serif' font-weight="bold" fill="#000">4</text>
<line x1="278" y1="559.6" x2="283.5" y2="559.6" stroke="#000" stroke-width="2.2"/>
<text x="278" y="564.8" font-size="12" text-anchor="end" font-family='"Liberation Serif", serif' font-weight="bold" fill="#000">0</text>
<line x1="278" y1="507.88" x2="283.5" y2="507.88" stroke="#000" stroke-width="2.2"/>
<text x="278" y="513.08" font-size="12" text-anchor="end" font-family='"Liberation Serif", serif' font-weight="bold" fill="#000">0.05</text>
<line x1="278" y1="456.16" x2="283.5" y2="456.16" stroke="#000" stroke-width="2.2"/>
<text x="278" y="461.36" font-size="12" text-anchor="end" font-family='"Liberation Serif", serif' font-weight="bold" fill="#000">0.1</text>
<line x1="278" y1="404.44" x2="283.5" y2="404.44" stroke="#000" stroke-width="2.2"/>
<text x="278" y="409.64" font-size="12" text-anchor="end" font-family='"Liberation Serif", serif' font-weight="bold" fill="#000">0.15</text>
<line x1="278" y1="352.72" x2="283.5" y2="352.72" stroke="#000" stroke-width="2.2"/>
<text x="278" y="357.92" font-size="12" text-anchor="end" font-family='"Liberation Serif", serif' font-weight="bold" fill="#000">0.2</text>
<line x1="278" y1="301" x2="283.5" y2="301" stroke="#000" stroke-width="2.2"/>
<text x="278" y="306.2" font-size="12" text-anchor="end" font-family='"Liberation Serif", serif' font-weight="bold" fill="#000">0.25</text>
<text x="340" y="583" font-size="12.5" text-anchor="start" font-family='"Liberation Serif", serif' font-weight="bold" fill="#000" textLength="26" lengthAdjust="spacingAndGlyphs">Time</text>
<text x="374.2" y="583" font-size="12.5" text-anchor="start" font-family='"Liberation Serif", serif' font-weight="bold" fill="#000" textLength="12.8" lengthAdjust="spacingAndGlyphs">(s)</text>
<text transform="translate(259.3,485.3) rotate(-90)" x="0" y="0" font-size="21" text-anchor="start" font-family='"Liberation Serif", serif' font-weight="bold" fill="#000" textLength="81.5" lengthAdjust="spacingAndGlyphs">Yaw rate</text>
<text transform="translate(258.4,402.8) rotate(-90)" x="0" y="0" font-size="16.5" text-anchor="start" font-family='"Liberation Serif", serif' font-weight="bold" fill="#000" textLength="46" lengthAdjust="spacingAndGlyphs">(rad/s)</text>
<clipPath id="clipe"><rect x="507.5" y="5.7" width="169.5" height="256.9"/></clipPath>
<line x1="549.9" y1="262.6" x2="549.9" y2="5.7" stroke="#2a2a2a" stroke-width="1.25" stroke-dasharray="4.4 3.9" stroke-dashoffset="-4.1"/>
<line x1="592.3" y1="262.6" x2="592.3" y2="5.7" stroke="#2a2a2a" stroke-width="1.25" stroke-dasharray="4.4 3.9" stroke-dashoffset="-4.1"/>
<line x1="634.7" y1="262.6" x2="634.7" y2="5.7" stroke="#2a2a2a" stroke-width="1.25" stroke-dasharray="4.4 3.9" stroke-dashoffset="-4.1"/>
<line x1="507.5" y1="22.8" x2="677" y2="22.8" stroke="#2a2a2a" stroke-width="1.25" stroke-dasharray="4.4 3.9"/>
<line x1="507.5" y1="57.06" x2="677" y2="57.06" stroke="#2a2a2a" stroke-width="1.25" stroke-dasharray="4.4 3.9"/>
<line x1="507.5" y1="91.32" x2="677" y2="91.32" stroke="#2a2a2a" stroke-width="1.25" stroke-dasharray="4.4 3.9"/>
<line x1="507.5" y1="125.58" x2="677" y2="125.58" stroke="#2a2a2a" stroke-width="1.25" stroke-dasharray="4.4 3.9"/>
<line x1="507.5" y1="159.84" x2="677" y2="159.84" stroke="#2a2a2a" stroke-width="1.25" stroke-dasharray="4.4 3.9"/>
<line x1="507.5" y1="194.1" x2="677" y2="194.1" stroke="#2a2a2a" stroke-width="1.25" stroke-dasharray="4.4 3.9"/>
<line x1="507.5" y1="228.36" x2="677" y2="228.36" stroke="#2a2a2a" stroke-width="1.25" stroke-dasharray="4.4 3.9"/>
<text x="576.25" y="23.92" font-size="25" text-anchor="start" font-family='"Liberation Sans", sans-serif' font-weight="bold" fill="#f00">(</text>
<text x="600.82" y="23.92" font-size="25" text-anchor="start" font-family='"Liberation Sans", sans-serif' font-weight="bold" fill="#f00">)</text>
<text x="586.11" y="25.1" font-size="23.5" text-anchor="start" font-family='"Liberation Sans", sans-serif' font-weight="bold" fill="#f00">e</text>
<line x1="630.8" y1="184" x2="655.7" y2="184" stroke="#000000" stroke-width="3.2" stroke-linecap="round"/>
<line x1="630.4" y1="201.6" x2="656.1" y2="201.6" stroke="#ff0000" stroke-width="2.4" stroke-linecap="round"/>
<line x1="630.8" y1="218.9" x2="655.7" y2="218.9" stroke="#ff00ff" stroke-width="3.2" stroke-linecap="round"/>
<line x1="630.8" y1="236.4" x2="655.7" y2="236.4" stroke="#00ff00" stroke-width="3.2" stroke-linecap="round"/>
<line x1="630.8" y1="253.8" x2="655.7" y2="253.8" stroke="#0000ff" stroke-width="3.2" stroke-linecap="round"/>
<text x="615.5" y="176.4" font-size="11.8" text-anchor="start" font-family='"Liberation Serif", serif' font-weight="bold" fill="#000" textLength="58.5" lengthAdjust="spacingAndGlyphs">Left:Right</text>
<text x="659.6" y="188.5" font-size="11.5" text-anchor="start" font-family='"Liberation Serif", serif' font-weight="bold" fill="#000" textLength="14.4" lengthAdjust="spacingAndGlyphs">9:1</text>
<text x="659.6" y="206.1" font-size="11.5" text-anchor="start" font-family='"Liberation Serif", serif' font-weight="bold" fill="#000" textLength="14.4" lengthAdjust="spacingAndGlyphs">7:3</text>
<text x="659.6" y="223.4" font-size="11.5" text-anchor="start" font-family='"Liberation Serif", serif' font-weight="bold" fill="#000" textLength="14.4" lengthAdjust="spacingAndGlyphs">5:5</text>
<text x="659.6" y="240.9" font-size="11.5" text-anchor="start" font-family='"Liberation Serif", serif' font-weight="bold" fill="#000" textLength="14.4" lengthAdjust="spacingAndGlyphs">3:7</text>
<text x="659.6" y="258.3" font-size="11.5" text-anchor="start" font-family='"Liberation Serif", serif' font-weight="bold" fill="#000" textLength="14.4" lengthAdjust="spacingAndGlyphs">1:9</text>
<g clip-path="url(#clipe)" fill="none" stroke-linecap="round" stroke-linejoin="round">
<path d="M523.5,0 C523.67,0.83 524,-2.5 524.5,5 C525,12.5 525.8,31.67 526.5,45 C527.2,58.33 528.05,75.83 528.7,85 C529.35,94.17 529.83,93.33 530.4,100 C530.97,106.67 531.52,117.12 532.1,125 C532.68,132.88 533.22,139.8 533.9,147.3 C534.58,154.8 535.42,162.92 536.2,170 C536.98,177.08 537.72,183.47 538.6,189.8 C539.48,196.13 540.32,202.08 541.5,208 C542.68,213.92 544.53,221.22 545.7,225.3 C546.87,229.38 547.52,230.73 548.5,232.5 C549.48,234.27 550.52,235.57 551.6,235.9 C552.68,236.23 553.85,235.73 555,234.5 C556.15,233.27 557.28,231.22 558.5,228.5 C559.72,225.78 560.72,222.28 562.3,218.2 C563.88,214.12 566.03,208.73 568,204 C569.97,199.27 572.27,194.47 574.1,189.8 C575.93,185.13 577.42,180.33 579,176 C580.58,171.67 582.1,167.38 583.6,163.8 C585.1,160.22 586.43,157.25 588,154.5 C589.57,151.75 591.42,149.25 593,147.3 C594.58,145.35 595.82,143.88 597.5,142.8 C599.18,141.72 601.35,141 603.1,140.8 C604.85,140.6 606.23,141.12 608,141.6 C609.77,142.08 611.87,142.83 613.7,143.7 C615.53,144.57 617.25,145.72 619,146.8 C620.75,147.88 622.53,149.2 624.2,150.2 C625.87,151.2 627.25,152.1 629,152.8 C630.75,153.5 632,153.92 634.7,154.4 C637.4,154.88 640.6,155.57 645.2,155.7 C649.8,155.83 657.17,155.43 662.3,155.2 C667.43,154.97 673.72,154.45 676,154.3" stroke="#000000" stroke-width="3.2"/>
<path d="M523.8,0 C523.97,0.83 524.13,-2.5 524.8,5 C525.47,12.5 526.77,31.67 527.8,45 C528.83,58.33 529.88,74.17 531,85 C532.12,95.83 533.43,102.5 534.5,110 C535.57,117.5 536.23,122.33 537.4,130 C538.57,137.67 540.32,148.52 541.5,156 C542.68,163.48 543.32,170.37 544.5,174.9 C545.68,179.43 546.87,181.07 548.6,183.2 C550.33,185.33 552.92,187.5 554.9,187.7 C556.88,187.9 558.82,185.93 560.5,184.4 C562.18,182.87 563.52,180.75 565,178.5 C566.48,176.25 567.73,174.07 569.4,170.9 C571.07,167.73 573.03,163.43 575,159.5 C576.97,155.57 579.2,150.8 581.2,147.3 C583.2,143.8 585.2,140.72 587,138.5 C588.8,136.28 590.18,135.55 592,134 C593.82,132.45 596.07,130.43 597.9,129.2 C599.73,127.97 601.25,127.15 603,126.6 C604.75,126.05 606.4,125.9 608.4,125.9 C610.4,125.9 612.58,126.17 615,126.6 C617.42,127.03 619.62,127.63 622.9,128.5 C626.18,129.37 630.33,130.95 634.7,131.8 C639.07,132.65 644.5,133.3 649.1,133.6 C653.7,133.9 657.82,133.68 662.3,133.6 C666.78,133.52 673.72,133.18 676,133.1" stroke="#ff00ff" stroke-width="3.2"/>
<path d="M523.5,0 C523.67,0.83 523.87,-2.5 524.5,5 C525.13,12.5 526.35,31.67 527.3,45 C528.25,58.33 529.33,74.17 530.2,85 C531.07,95.83 531.88,102.83 532.5,110 C533.12,117.17 533.32,122.5 533.9,128 C534.48,133.5 535.32,138.73 536,143 C536.68,147.27 537.08,149.85 538,153.6 C538.92,157.35 540.22,162.38 541.5,165.5 C542.78,168.62 544.32,172.12 545.7,172.3 C547.08,172.48 548.22,170.77 549.8,166.6 C551.38,162.43 553.7,152.57 555.2,147.3 C556.7,142.03 557.62,138.95 558.8,135 C559.98,131.05 561.13,127.77 562.3,123.6 C563.47,119.43 564.62,114.1 565.8,110 C566.98,105.9 568.2,102.08 569.4,99 C570.6,95.92 571.72,93.4 573,91.5 C574.28,89.6 575.77,87.93 577.1,87.6 C578.43,87.27 579.52,88.52 581,89.5 C582.48,90.48 584.25,92.28 586,93.5 C587.75,94.72 589.67,95.72 591.5,96.8 C593.33,97.88 595.02,99.22 597,100 C598.98,100.78 601.23,101.33 603.4,101.5 C605.57,101.67 607.38,101.35 610,101 C612.62,100.65 614.95,99.85 619.1,99.4 C623.25,98.95 629.75,98.4 634.9,98.3 C640.05,98.2 643.15,98.68 650,98.8 C656.85,98.92 671.67,98.97 676,99" stroke="#00ff00" stroke-width="3.2"/>
<path d="M523.6,0 C523.75,0.83 523.88,-3.33 524.5,5 C525.12,13.33 526.48,36.67 527.3,50 C528.12,63.33 528.7,75.83 529.4,85 C530.1,94.17 530.85,99.17 531.5,105 C532.15,110.83 532.62,115.33 533.3,120 C533.98,124.67 534.62,128.97 535.6,133 C536.58,137.03 538.22,141.28 539.2,144.2 C540.18,147.12 540.6,148.82 541.5,150.5 C542.4,152.18 543.6,154.05 544.6,154.3 C545.6,154.55 546.63,153.3 547.5,152 C548.37,150.7 548.92,149.65 549.8,146.5 C550.68,143.35 551.82,136.85 552.8,133.1 C553.78,129.35 554.67,127.52 555.7,124 C556.73,120.48 557.9,116 559,112 C560.1,108 561.48,103.5 562.3,100 C563.12,96.5 563.3,94 563.9,91 C564.5,88 565.22,84.67 565.9,82 C566.58,79.33 567.23,77.17 568,75 C568.77,72.83 569.65,70.4 570.5,69 C571.35,67.6 572.1,66.43 573.1,66.6 C574.1,66.77 575.43,68.1 576.5,70 C577.57,71.9 578.5,75.5 579.5,78 C580.5,80.5 581.48,83 582.5,85 C583.52,87 584.68,88.87 585.6,90 C586.52,91.13 587.23,91.43 588,91.8 C588.77,92.17 589.2,92.37 590.2,92.2 C591.2,92.03 592.85,91.42 594,90.8 C595.15,90.18 595.67,89.97 597.1,88.5 C598.53,87.03 600.42,84.22 602.6,82 C604.78,79.78 607.67,76.78 610.2,75.2 C612.73,73.62 615.02,72.62 617.8,72.5 C620.58,72.38 624.05,73.85 626.9,74.5 C629.75,75.15 631.05,75.97 634.9,76.4 C638.75,76.83 645.25,77.12 650,77.1 C654.75,77.08 659.07,76.5 663.4,76.3 C667.73,76.1 673.9,75.97 676,75.9" stroke="#0000ff" stroke-width="3.2"/>
</g>
<rect x="507.5" y="5.7" width="169.5" height="256.9" fill="none" stroke="#000" stroke-width="3" stroke-linejoin="round"/>
<line x1="507.5" y1="262.6" x2="507.5" y2="269.1" stroke="#000" stroke-width="2.2"/>
<text x="507.5" y="280.3" font-size="11.5" text-anchor="middle" font-family='"Liberation Serif", serif' font-weight="bold" fill="#000">0</text>
<line x1="549.9" y1="262.6" x2="549.9" y2="269.1" stroke="#000" stroke-width="2.2"/>
<text x="549.9" y="280.3" font-size="11.5" text-anchor="middle" font-family='"Liberation Serif", serif' font-weight="bold" fill="#000">1</text>
<line x1="592.3" y1="262.6" x2="592.3" y2="269.1" stroke="#000" stroke-width="2.2"/>
<text x="592.3" y="280.3" font-size="11.5" text-anchor="middle" font-family='"Liberation Serif", serif' font-weight="bold" fill="#000">2</text>
<line x1="634.7" y1="262.6" x2="634.7" y2="269.1" stroke="#000" stroke-width="2.2"/>
<text x="634.7" y="280.3" font-size="11.5" text-anchor="middle" font-family='"Liberation Serif", serif' font-weight="bold" fill="#000">3</text>
<line x1="677.1" y1="262.6" x2="677.1" y2="269.1" stroke="#000" stroke-width="2.2"/>
<text x="677.1" y="280.3" font-size="11.5" text-anchor="middle" font-family='"Liberation Serif", serif' font-weight="bold" fill="#000">4</text>
<line x1="502" y1="22.8" x2="507.5" y2="22.8" stroke="#000" stroke-width="2.2"/>
<text x="502" y="28" font-size="12" text-anchor="end" font-family='"Liberation Serif", serif' font-weight="bold" fill="#000">0.000</text>
<line x1="502" y1="57.06" x2="507.5" y2="57.06" stroke="#000" stroke-width="2.2"/>
<text x="502" y="62.26" font-size="12" text-anchor="end" font-family='"Liberation Serif", serif' font-weight="bold" fill="#000">-0.005</text>
<line x1="502" y1="91.32" x2="507.5" y2="91.32" stroke="#000" stroke-width="2.2"/>
<text x="502" y="96.52" font-size="12" text-anchor="end" font-family='"Liberation Serif", serif' font-weight="bold" fill="#000">-0.010</text>
<line x1="502" y1="125.58" x2="507.5" y2="125.58" stroke="#000" stroke-width="2.2"/>
<text x="502" y="130.78" font-size="12" text-anchor="end" font-family='"Liberation Serif", serif' font-weight="bold" fill="#000">-0.015</text>
<line x1="502" y1="159.84" x2="507.5" y2="159.84" stroke="#000" stroke-width="2.2"/>
<text x="502" y="165.04" font-size="12" text-anchor="end" font-family='"Liberation Serif", serif' font-weight="bold" fill="#000">-0.020</text>
<line x1="502" y1="194.1" x2="507.5" y2="194.1" stroke="#000" stroke-width="2.2"/>
<text x="502" y="199.3" font-size="12" text-anchor="end" font-family='"Liberation Serif", serif' font-weight="bold" fill="#000">-0.025</text>
<line x1="502" y1="228.36" x2="507.5" y2="228.36" stroke="#000" stroke-width="2.2"/>
<text x="502" y="233.56" font-size="12" text-anchor="end" font-family='"Liberation Serif", serif' font-weight="bold" fill="#000">-0.030</text>
<line x1="502" y1="262.62" x2="507.5" y2="262.62" stroke="#000" stroke-width="2.2"/>
<text x="502" y="267.82" font-size="12" text-anchor="end" font-family='"Liberation Serif", serif' font-weight="bold" fill="#000">-0.035</text>
<text x="553.1" y="288.9" font-size="12.5" text-anchor="start" font-family='"Liberation Serif", serif' font-weight="bold" fill="#000" textLength="25.6" lengthAdjust="spacingAndGlyphs">Time</text>
<text x="588.4" y="288.5" font-size="12" text-anchor="middle" font-family='"Liberation Serif", serif' font-weight="normal" fill="#000">(</text>
<text x="592.4" y="288.9" font-size="12.5" text-anchor="start" font-family='"Liberation Serif", serif' font-weight="bold" fill="#000" textLength="4.8" lengthAdjust="spacingAndGlyphs">s</text>
<text x="602.1" y="288.5" font-size="12" text-anchor="middle" font-family='"Liberation Serif", serif' font-weight="normal" fill="#000">)</text>
<text transform="translate(475,211) rotate(-90)" x="0" y="0" font-size="18.5" text-anchor="start" font-family='"Liberation Serif", serif' font-weight="bold" fill="#000" textLength="110" lengthAdjust="spacingAndGlyphs">Side Slip Angle</text>
<text transform="translate(471,89.2) rotate(-90)" x="0" y="0" font-size="13" text-anchor="middle" font-family='"Liberation Serif", serif' font-weight="normal" fill="#000">(</text>
<text transform="translate(474,82.8) rotate(-90)" x="0" y="0" font-size="15" text-anchor="start" font-family='"Liberation Serif", serif' font-weight="bold" fill="#000" textLength="24.6" lengthAdjust="spacingAndGlyphs">rad</text>
<text transform="translate(471,53.7) rotate(-90)" x="0" y="0" font-size="13" text-anchor="middle" font-family='"Liberation Serif", serif' font-weight="normal" fill="#000">)</text>
<clipPath id="clipf"><rect x="509.4" y="303.3" width="169.9" height="257.3"/></clipPath>
<line x1="551.9" y1="560.6" x2="551.9" y2="303.3" stroke="#2a2a2a" stroke-width="1.25" stroke-dasharray="4.4 3.9" stroke-dashoffset="-1.6"/>
<line x1="594.4" y1="560.6" x2="594.4" y2="303.3" stroke="#2a2a2a" stroke-width="1.25" stroke-dasharray="4.4 3.9" stroke-dashoffset="-1.6"/>
<line x1="636.9" y1="560.6" x2="636.9" y2="303.3" stroke="#2a2a2a" stroke-width="1.25" stroke-dasharray="4.4 3.9" stroke-dashoffset="-1.6"/>
<line x1="509.4" y1="509.14" x2="679.3" y2="509.14" stroke="#2a2a2a" stroke-width="1.25" stroke-dasharray="4.4 3.9"/>
<line x1="509.4" y1="457.68" x2="679.3" y2="457.68" stroke="#2a2a2a" stroke-width="1.25" stroke-dasharray="4.4 3.9"/>
<line x1="509.4" y1="406.22" x2="679.3" y2="406.22" stroke="#2a2a2a" stroke-width="1.25" stroke-dasharray="4.4 3.9"/>
<line x1="509.4" y1="354.76" x2="679.3" y2="354.76" stroke="#2a2a2a" stroke-width="1.25" stroke-dasharray="4.4 3.9"/>
<text x="575.65" y="321.92" font-size="25" text-anchor="start" font-family='"Liberation Sans", sans-serif' font-weight="bold" fill="#f00">(</text>
<text x="596.12" y="321.92" font-size="25" text-anchor="start" font-family='"Liberation Sans", sans-serif' font-weight="bold" fill="#f00">)</text>
<text x="585.91" y="323.1" font-size="23.5" text-anchor="start" font-family='"Liberation Sans", sans-serif' font-weight="bold" fill="#f00">f</text>
<line x1="632.8" y1="480.4" x2="656.9" y2="480.4" stroke="#000000" stroke-width="3.2" stroke-linecap="round"/>
<line x1="632.4" y1="497.6" x2="657.3" y2="497.6" stroke="#ff0000" stroke-width="2.4" stroke-linecap="round"/>
<line x1="632.8" y1="515.1" x2="656.9" y2="515.1" stroke="#ff00ff" stroke-width="3.2" stroke-linecap="round"/>
<line x1="632.8" y1="532.5" x2="656.9" y2="532.5" stroke="#00ff00" stroke-width="3.2" stroke-linecap="round"/>
<line x1="632.8" y1="549.6" x2="656.9" y2="549.6" stroke="#0000ff" stroke-width="3.2" stroke-linecap="round"/>
<text x="616.3" y="469" font-size="11.8" text-anchor="start" font-family='"Liberation Serif", serif' font-weight="bold" fill="#000" textLength="58.5" lengthAdjust="spacingAndGlyphs">Left:Right</text>
<text x="661.1" y="484.5" font-size="11.5" text-anchor="start" font-family='"Liberation Serif", serif' font-weight="bold" fill="#000" textLength="13.7" lengthAdjust="spacingAndGlyphs">9:1</text>
<text x="661.1" y="501.7" font-size="11.5" text-anchor="start" font-family='"Liberation Serif", serif' font-weight="bold" fill="#000" textLength="13.7" lengthAdjust="spacingAndGlyphs">7:3</text>
<text x="661.1" y="519.2" font-size="11.5" text-anchor="start" font-family='"Liberation Serif", serif' font-weight="bold" fill="#000" textLength="13.7" lengthAdjust="spacingAndGlyphs">5:5</text>
<text x="661.1" y="536.6" font-size="11.5" text-anchor="start" font-family='"Liberation Serif", serif' font-weight="bold" fill="#000" textLength="13.7" lengthAdjust="spacingAndGlyphs">3:7</text>
<text x="661.1" y="553.7" font-size="11.5" text-anchor="start" font-family='"Liberation Serif", serif' font-weight="bold" fill="#000" textLength="13.7" lengthAdjust="spacingAndGlyphs">1:9</text>
<g clip-path="url(#clipf)" fill="none" stroke-linecap="round" stroke-linejoin="round">
<path d="M512.3,560.6 C512.72,552.38 513.97,528.38 514.8,511.3 C515.63,494.22 516.47,475.82 517.3,458.1 C518.13,440.38 518.97,418.35 519.8,405 C520.63,391.65 521.4,387.05 522.3,378 C523.2,368.95 524.43,358.92 525.2,350.7 C525.97,342.48 526.33,334.33 526.9,328.7 C527.47,323.07 527.9,319.72 528.6,316.9 C529.3,314.08 530.12,311.95 531.1,311.8 C532.08,311.65 533.23,313.18 534.5,316 C535.77,318.82 537.15,324.05 538.7,328.7 C540.25,333.35 541.83,337.68 543.8,343.9 C545.77,350.12 548.5,359.12 550.5,366 C552.5,372.88 553.65,379.47 555.8,385.2 C557.95,390.93 560.87,395.83 563.4,400.4 C565.93,404.97 568.9,409.83 571,412.6 C573.1,415.37 574.22,415.93 576,417 C577.78,418.07 579.23,419.1 581.7,419 C584.17,418.9 587.77,417.85 590.8,416.4 C593.83,414.95 597.68,411.95 599.9,410.3 C602.12,408.65 602.32,407.65 604.1,406.5 C605.88,405.35 608.62,404.18 610.6,403.4 C612.58,402.62 613.78,402.17 616,401.8 C618.22,401.43 620.3,401.23 623.9,401.2 C627.5,401.17 632.28,401.28 637.6,401.6 C642.92,401.92 648.97,402.85 655.8,403.1 C662.63,403.35 674.8,403.1 678.6,403.1" stroke="#000000" stroke-width="3.2"/>
<path d="M512.5,560.6 C512.92,552.38 514.17,528.38 515,511.3 C515.83,494.22 516.67,475.82 517.5,458.1 C518.33,440.38 519.15,418.02 520,405 C520.85,391.98 521.77,388.5 522.6,380 C523.43,371.5 524.18,360.67 525,354 C525.82,347.33 526.67,343.33 527.5,340 C528.33,336.67 529.17,334.92 530,334 C530.83,333.08 531.67,333.83 532.5,334.5 C533.33,335.17 534.25,336.72 535,338 C535.75,339.28 535.53,339.25 537,342.2 C538.47,345.15 541.72,351.07 543.8,355.7 C545.88,360.33 547.53,365.2 549.5,370 C551.47,374.8 553.85,380.67 555.6,384.5 C557.35,388.33 558.43,390.6 560,393 C561.57,395.4 562.65,396.65 565,398.9 C567.35,401.15 571.32,404.85 574.1,406.5 C576.88,408.15 578.92,408.8 581.7,408.8 C584.48,408.8 588.58,407.08 590.8,406.5 C593.02,405.92 593.23,405.93 595,405.3 C596.77,404.67 599.37,403.52 601.4,402.7 C603.43,401.88 605.43,400.98 607.2,400.4 C608.97,399.82 609.47,399.7 612,399.2 C614.53,398.7 618.13,397.75 622.4,397.4 C626.67,397.05 632.03,397.05 637.6,397.1 C643.17,397.15 648.97,397.48 655.8,397.7 C662.63,397.92 674.8,398.28 678.6,398.4" stroke="#ff00ff" stroke-width="3.2"/>
<path d="M512.5,560.6 C512.92,552.38 514.17,528.38 515,511.3 C515.83,494.22 516.67,475.82 517.5,458.1 C518.33,440.38 519.15,418.02 520,405 C520.85,391.98 521.8,388.17 522.6,380 C523.4,371.83 524.07,362.67 524.8,356 C525.53,349.33 526.33,344.33 527,340 C527.67,335.67 528.17,332.3 528.8,330 C529.43,327.7 530.1,325.87 530.8,326.2 C531.5,326.53 532.25,329.05 533,332 C533.75,334.95 534.33,339.73 535.3,343.9 C536.27,348.07 537.53,352.65 538.8,357 C540.07,361.35 541.33,362.77 542.9,370 C544.47,377.23 546.3,391.28 548.2,400.4 C550.1,409.52 552.27,418.87 554.3,424.7 C556.33,430.53 558.37,432.98 560.4,435.4 C562.43,437.82 564.47,439.72 566.5,439.2 C568.53,438.68 570.58,435.47 572.6,432.3 C574.62,429.13 576.58,423.62 578.6,420.2 C580.62,416.78 583.13,413.53 584.7,411.8 C586.27,410.07 586.73,410.23 588,409.8 C589.27,409.37 590.8,409.13 592.3,409.2 C593.8,409.27 595.48,409.77 597,410.2 C598.52,410.63 599.9,411.23 601.4,411.8 C602.9,412.37 604.23,413.07 606,413.6 C607.77,414.13 610.03,414.72 612,415 C613.97,415.28 613.53,415.38 617.8,415.3 C622.07,415.22 631.27,414.63 637.6,414.5 C643.93,414.37 648.97,414.45 655.8,414.5 C662.63,414.55 674.8,414.75 678.6,414.8" stroke="#00ff00" stroke-width="3.2"/>
<path d="M512.8,560.6 C513.2,552.38 514.38,528.38 515.2,511.3 C516.02,494.22 516.87,474.98 517.7,458.1 C518.53,441.22 519.35,421.35 520.2,410 C521.05,398.65 522.1,395.67 522.8,390 C523.5,384.33 523.72,382 524.4,376 C525.08,370 526.15,359.92 526.9,354 C527.65,348.08 528.2,344 528.9,340.5 C529.6,337 530.32,333 531.1,333 C531.88,333 532.62,336.72 533.6,340.5 C534.58,344.28 535.83,350.78 537,355.7 C538.17,360.62 539.75,366.33 540.6,370 C541.45,373.67 541.33,373.9 542.1,377.7 C542.87,381.5 544.22,388.17 545.2,392.8 C546.18,397.43 546.98,401.2 548,405.5 C549.02,409.8 549.73,413.37 551.3,418.6 C552.87,423.83 555.7,432.83 557.4,436.9 C559.1,440.97 560.12,441.6 561.5,443 C562.88,444.4 564.37,445.3 565.7,445.3 C567.03,445.3 568.35,444.4 569.5,443 C570.65,441.6 571.33,440.97 572.6,436.9 C573.87,432.83 575.83,423.92 577.1,418.6 C578.37,413.28 579.23,408.08 580.2,405 C581.17,401.92 581.9,400.1 582.9,400.1 C583.9,400.1 584.63,402.42 586.2,405 C587.77,407.58 590.27,412.7 592.3,415.6 C594.33,418.5 596.93,421 598.4,422.4 C599.87,423.8 600.17,423.48 601.1,424 C602.03,424.52 602.93,425.25 604,425.5 C605.07,425.75 605.7,426.02 607.5,425.5 C609.3,424.98 612.72,423.42 614.8,422.4 C616.88,421.38 618.23,420.28 620,419.4 C621.77,418.52 622.47,417.53 625.4,417.1 C628.33,416.67 632.53,416.6 637.6,416.8 C642.67,417 648.97,418 655.8,418.3 C662.63,418.6 674.8,418.55 678.6,418.6" stroke="#0000ff" stroke-width="3.2"/>
</g>
<rect x="509.4" y="303.3" width="169.9" height="257.3" fill="none" stroke="#000" stroke-width="3" stroke-linejoin="round"/>
<line x1="509.4" y1="560.6" x2="509.4" y2="567.1" stroke="#000" stroke-width="2.2"/>
<text x="509.4" y="577.5" font-size="11.5" text-anchor="middle" font-family='"Liberation Serif", serif' font-weight="bold" fill="#000">0</text>
<line x1="551.9" y1="560.6" x2="551.9" y2="567.1" stroke="#000" stroke-width="2.2"/>
<text x="551.9" y="577.5" font-size="11.5" text-anchor="middle" font-family='"Liberation Serif", serif' font-weight="bold" fill="#000">1</text>
<line x1="594.4" y1="560.6" x2="594.4" y2="567.1" stroke="#000" stroke-width="2.2"/>
<text x="594.4" y="577.5" font-size="11.5" text-anchor="middle" font-family='"Liberation Serif", serif' font-weight="bold" fill="#000">2</text>
<line x1="636.9" y1="560.6" x2="636.9" y2="567.1" stroke="#000" stroke-width="2.2"/>
<text x="636.9" y="577.5" font-size="11.5" text-anchor="middle" font-family='"Liberation Serif", serif' font-weight="bold" fill="#000">3</text>
<line x1="679.4" y1="560.6" x2="679.4" y2="567.1" stroke="#000" stroke-width="2.2"/>
<text x="679.4" y="577.5" font-size="11.5" text-anchor="middle" font-family='"Liberation Serif", serif' font-weight="bold" fill="#000">4</text>
<line x1="503.9" y1="560.6" x2="509.4" y2="560.6" stroke="#000" stroke-width="2.2"/>
<text x="503.9" y="565.8" font-size="12" text-anchor="end" font-family='"Liberation Serif", serif' font-weight="bold" fill="#000">0</text>
<line x1="503.9" y1="509.14" x2="509.4" y2="509.14" stroke="#000" stroke-width="2.2"/>
<text x="503.9" y="514.34" font-size="12" text-anchor="end" font-family='"Liberation Serif", serif' font-weight="bold" fill="#000">0.05</text>
<line x1="503.9" y1="457.68" x2="509.4" y2="457.68" stroke="#000" stroke-width="2.2"/>
<text x="503.9" y="462.88" font-size="12" text-anchor="end" font-family='"Liberation Serif", serif' font-weight="bold" fill="#000">0.1</text>
<line x1="503.9" y1="406.22" x2="509.4" y2="406.22" stroke="#000" stroke-width="2.2"/>
<text x="503.9" y="411.42" font-size="12" text-anchor="end" font-family='"Liberation Serif", serif' font-weight="bold" fill="#000">0.15</text>
<line x1="503.9" y1="354.76" x2="509.4" y2="354.76" stroke="#000" stroke-width="2.2"/>
<text x="503.9" y="359.96" font-size="12" text-anchor="end" font-family='"Liberation Serif", serif' font-weight="bold" fill="#000">0.2</text>
<line x1="503.9" y1="303.3" x2="509.4" y2="303.3" stroke="#000" stroke-width="2.2"/>
<text x="503.9" y="308.5" font-size="12" text-anchor="end" font-family='"Liberation Serif", serif' font-weight="bold" fill="#000">0.25</text>
<text x="552.6" y="586.3" font-size="12.5" text-anchor="start" font-family='"Liberation Serif", serif' font-weight="bold" fill="#000" textLength="26.1" lengthAdjust="spacingAndGlyphs">Time</text>
<text x="587.5" y="586" font-size="12" text-anchor="middle" font-family='"Liberation Serif", serif' font-weight="normal" fill="#000">(</text>
<text x="592.4" y="586.3" font-size="12.5" text-anchor="start" font-family='"Liberation Serif", serif' font-weight="bold" fill="#000" textLength="4.8" lengthAdjust="spacingAndGlyphs">s</text>
<text x="601.7" y="586" font-size="12" text-anchor="middle" font-family='"Liberation Serif", serif' font-weight="normal" fill="#000">)</text>
<text transform="translate(483.3,508.4) rotate(-90)" x="0" y="0" font-size="21" text-anchor="start" font-family='"Liberation Serif", serif' font-weight="bold" fill="#000" textLength="81.8" lengthAdjust="spacingAndGlyphs">Yaw rate</text>
<text transform="translate(479.5,416.8) rotate(-90)" x="0" y="0" font-size="14" text-anchor="middle" font-family='"Liberation Serif", serif' font-weight="normal" fill="#000">(</text>
<text transform="translate(482.9,411) rotate(-90)" x="0" y="0" font-size="13.5" text-anchor="start" font-family='"Liberation Serif", serif' font-weight="bold" fill="#000" textLength="36.2" lengthAdjust="spacingAndGlyphs">rad/s</text>
<text transform="translate(479.5,371) rotate(-90)" x="0" y="0" font-size="14" text-anchor="middle" font-family='"Liberation Serif", serif' font-weight="normal" fill="#000">)</text>
<line x1="681.2" y1="198" x2="681.2" y2="212" stroke="#e6dede" stroke-width="1" stroke-dasharray="5 3"/>
</svg>
</body></html>
